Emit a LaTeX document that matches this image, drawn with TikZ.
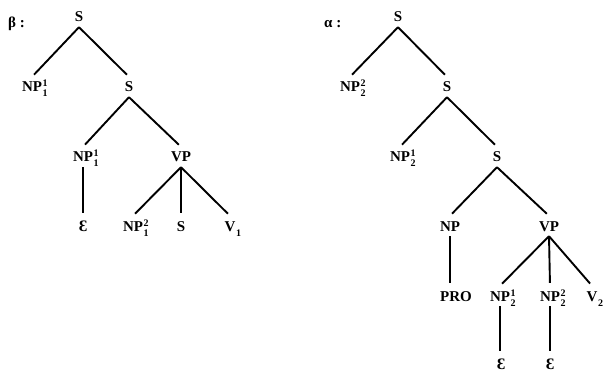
\documentclass[tikz,border=0pt]{standalone}
\usepackage{fontspec}
\setmainfont{Liberation Serif}
\newcommand\supsub[2]{\rlap{\hspace{0.6pt}\rlap{\raisebox{5pt}{\fontsize{10}{10}\selectfont #1}}\raisebox{-5pt}{\fontsize{10}{10}\selectfont #2}}}
\newcommand\sbonly[1]{\rlap{\hspace{0.8pt}\raisebox{-5pt}{\fontsize{10}{10}\selectfont #1}}}
\tikzset{
  lab/.style={font=\fontsize{15}{15}\selectfont\bfseries, text height=10pt, text depth=0pt, inner xsep=1pt, inner ysep=5pt},
  epsn/.style={font=\fontsize{16}{16}\selectfont\bfseries, text height=10pt, text depth=0pt, inner xsep=1pt, inner ysep=0.5pt},
  edge/.style={line width=1.9pt, shorten >=3pt},
  epsedge/.style={line width=1.9pt, shorten >=7.5pt},
  tag/.style={font=\fontsize{15}{15}\selectfont\bfseries, anchor=base west, inner sep=0pt}
}
\begin{document}
\begin{tikzpicture}[x=1pt,y=-1pt]
\useasboundingbox (0,0) rectangle (612,371);
% labels
\node[tag] (beta) at (8,28) {β :};
\node[tag] (alpha) at (324,28) {α :};
% left tree
\node[lab] (l0) at (79,17) {S};
\node[lab] (l1) at (32,87) {NP\supsub{1}{1}};
\node[lab] (l2) at (129,87) {S};
\node[lab] (l3) at (83,157) {NP\supsub{1}{1}};
\node[lab] (l4) at (181,157) {VP};
\node[epsn] (l5) at (83,226) {Ɛ};
\node[lab] (l6) at (133,226) {NP\supsub{2}{1}};
\node[lab] (l7) at (181,226) {S};
\node[lab] (l8) at (230,226) {V\sbonly{1}};
\draw[edge] (l0.south) -- (l1.north);
\draw[edge] (l0.south) -- (l2.north);
\draw[edge] (l2.south) -- (l3.north);
\draw[edge] (l2.south) -- (l4.north);
\draw[epsedge] (l3.south) -- (l5.north);
\draw[edge] (l4.south) -- (l6.north);
\draw[edge] (l4.south) -- (l7.north);
\draw[edge] (l4.south) -- (l8.north);
% right tree
\node[lab] (r0) at (398,17) {S};
\node[lab] (r1) at (350,87) {NP\supsub{2}{2}};
\node[lab] (r2) at (447,87) {S};
\node[lab] (r3) at (400,157) {NP\supsub{1}{2}};
\node[lab] (r4) at (497,157) {S};
\node[lab] (r5) at (450,226) {NP};
\node[lab] (r6) at (549,226) {VP};
\node[lab] (r7) at (456,296) {PRO};
\node[lab] (r8) at (500,296) {NP\supsub{1}{2}};
\node[lab] (r9) at (550,296) {NP\supsub{2}{2}};
\node[lab] (r10) at (592,296) {V\sbonly{2}};
\node[epsn] (r11) at (501,364) {Ɛ};
\node[epsn] (r12) at (550,364) {Ɛ};
\draw[edge] (r0.south) -- (r1.north);
\draw[edge] (r0.south) -- (r2.north);
\draw[edge] (r2.south) -- (r3.north);
\draw[edge] (r2.south) -- (r4.north);
\draw[edge] (r4.south) -- (r5.north);
\draw[edge] (r4.south) -- (r6.north);
\draw[edge] (r5.south) -- (r5.south |- r7.north);
\draw[edge] (r6.south) -- (r8.north);
\draw[edge] (r6.south) -- (r9.north);
\draw[edge] (r6.south) -- (r10.north);
\draw[epsedge] (r8.south) -- (r8.south |- r11.north);
\draw[epsedge] (r9.south) -- (r9.south |- r12.north);
\end{tikzpicture}
\end{document}
